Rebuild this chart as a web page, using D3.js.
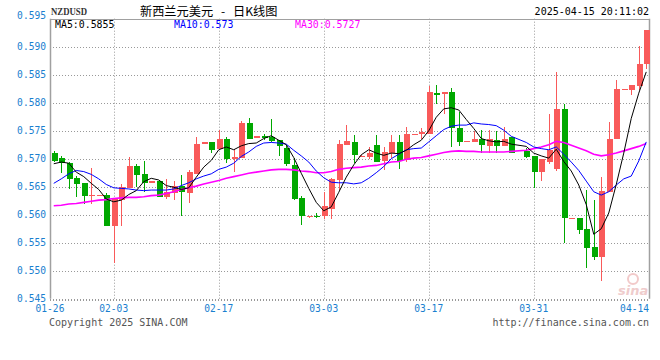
<!DOCTYPE html>
<html><head><meta charset="utf-8">
<script src="https://cdn.jsdelivr.net/npm/d3@7"></script>
<style>
html,body{margin:0;padding:0;background:#fff;}
svg{display:block;}
</style></head>
<body>
<svg id="chart" width="660" height="360"></svg>
<script>
const dates = [
"2025-01-26","2025-01-27","2025-01-28","2025-01-29","2025-01-30","2025-01-31",
"2025-02-01","2025-02-02","2025-02-03","2025-02-04","2025-02-05","2025-02-06","2025-02-07","2025-02-08","2025-02-09","2025-02-10",
"2025-02-11","2025-02-12","2025-02-13","2025-02-14","2025-02-15","2025-02-16","2025-02-17","2025-02-18","2025-02-19","2025-02-20",
"2025-02-21","2025-02-22","2025-02-23","2025-02-24","2025-02-25","2025-02-26","2025-02-27","2025-02-28",
"2025-03-01","2025-03-02","2025-03-03","2025-03-04","2025-03-05","2025-03-06","2025-03-07","2025-03-08","2025-03-09","2025-03-10",
"2025-03-11","2025-03-12","2025-03-13","2025-03-14","2025-03-15","2025-03-16","2025-03-17","2025-03-18","2025-03-19","2025-03-20",
"2025-03-21","2025-03-22","2025-03-23","2025-03-24","2025-03-25","2025-03-26","2025-03-27","2025-03-28","2025-03-30","2025-03-31",
"2025-04-01","2025-04-02","2025-04-03","2025-04-04","2025-04-05","2025-04-06","2025-04-07","2025-04-08","2025-04-09","2025-04-10",
"2025-04-11","2025-04-12","2025-04-13","2025-04-14","2025-04-15"];

const open = [
.5711,.5701,.5692,.5666,.5656,.5633,.5634,.5635,.5580,.5626,
.5648,.5687,.5673,.5657,.5660,.5632,.5639,.5652,.5639,.5673,
.5729,.5730,.5717,.5735,.5700,.5702,.5763,.5740,.5740,.5739,
.5733,.5720,.5689,.5630,.5597,.5598,.5597,.5610,.5662,.5724,
.5730,.5704,.5703,.5724,.5696,.5711,.5730,.5698,.5745,.5744,
.5744,.5818,.5815,.5819,.5755,.5732,.5730,.5735,.5723,.5733,
.5723,.5738,.5714,.5705,.5677,.5695,.5681,.5789,.5594,.5594,
.5574,.5543,.5525,.5641,.5735,.5824,.5822,.5830,.5869];

const high = [
.5713,.5705,.5695,.5670,.5657,.5683,.5635,.5639,.5629,.5655,
.5703,.5691,.5696,.5661,.5660,.5664,.5661,.5671,.5680,.5739,
.5729,.5730,.5751,.5739,.5717,.5767,.5773,.5740,.5745,.5771,
.5733,.5724,.5701,.5634,.5598,.5603,.5640,.5665,.5733,.5760,
.5742,.5706,.5721,.5742,.5721,.5742,.5742,.5756,.5745,.5755,
.5829,.5832,.5819,.5826,.5784,.5732,.5749,.5751,.5751,.5750,
.5757,.5738,.5719,.5705,.5699,.5779,.5854,.5797,.5594,.5594,
.5645,.5626,.5668,.5766,.5841,.5824,.5832,.5902,.5930];

const low = [
.5694,.5675,.5646,.5631,.5620,.5620,.5634,.5580,.5514,.5580,
.5648,.5650,.5641,.5657,.5632,.5628,.5626,.5598,.5621,.5673,
.5729,.5711,.5717,.5693,.5677,.5702,.5735,.5740,.5733,.5730,
.5705,.5687,.5626,.5581,.5595,.5594,.5593,.5593,.5644,.5724,
.5692,.5704,.5700,.5695,.5680,.5701,.5681,.5695,.5745,.5735,
.5744,.5797,.5779,.5721,.5723,.5732,.5730,.5710,.5710,.5711,
.5723,.5711,.5701,.5647,.5661,.5690,.5678,.5549,.5594,.5566,
.5504,.5519,.5482,.5641,.5735,.5824,.5814,.5822,.5861];

const close = [
.5696,.5692,.5664,.5655,.5634,.5635,.5635,.5580,.5629,.5649,
.5687,.5671,.5657,.5661,.5632,.5641,.5652,.5640,.5676,.5727,
.5729,.5715,.5735,.5700,.5703,.5763,.5735,.5740,.5737,.5732,
.5723,.5691,.5628,.5597,.5598,.5597,.5615,.5663,.5726,.5732,
.5707,.5705,.5710,.5695,.5712,.5730,.5696,.5744,.5745,.5748,
.5819,.5814,.5819,.5755,.5730,.5732,.5736,.5725,.5736,.5723,
.5735,.5711,.5703,.5677,.5699,.5715,.5789,.5594,.5594,.5572,
.5541,.5525,.5643,.5736,.5824,.5824,.5832,.5869,.5930];

const ma5 = [
.5691,.5694,.5692,.5676,.5668,.5656,.5645,.5628,.5623,.5626,
.5636,.5643,.5659,.5665,.5662,.5652,.5649,.5645,.5648,.5667,
.5685,.5697,.5716,.5721,.5716,.5723,.5727,.5728,.5736,.5741,
.5733,.5725,.5702,.5674,.5647,.5622,.5607,.5614,.5640,.5667,
.5689,.5707,.5716,.5710,.5706,.5710,.5709,.5715,.5725,.5733,
.5750,.5774,.5789,.5791,.5787,.5770,.5754,.5736,.5732,.5730,
.5731,.5726,.5722,.5710,.5705,.5701,.5717,.5695,.5678,.5653,
.5618,.5565,.5575,.5603,.5654,.5710,.5772,.5817,.5855];

const ma10 = [
.5656,.5664,.5673,.5679,.5677,.5672,.5664,.5654,.5648,.5647,
.5646,.5644,.5643,.5644,.5644,.5644,.5646,.5652,.5657,.5664,
.5669,.5673,.5681,.5685,.5692,.5704,.5712,.5722,.5728,.5729,
.5728,.5726,.5715,.5705,.5694,.5678,.5666,.5658,.5657,.5657,
.5655,.5657,.5665,.5675,.5686,.5700,.5708,.5716,.5718,.5719,
.5730,.5741,.5752,.5758,.5760,.5760,.5764,.5762,.5761,.5759,
.5751,.5740,.5729,.5721,.5718,.5716,.5721,.5708,.5694,.5679,
.5660,.5641,.5635,.5641,.5653,.5664,.5669,.5696,.5730];

const ma30 = [
.5616,.5617,.5619,.5620,.5622,.5624,.5626,.5627,.5629,.5630,
.5631,.5631,.5632,.5634,.5635,.5638,.5641,.5645,.5648,.5651,
.5655,.5658,.5661,.5665,.5668,.5671,.5674,.5676,.5678,.5680,
.5681,.5681,.5680,.5678,.5677,.5675,.5675,.5677,.5681,.5683,
.5684,.5685,.5687,.5688,.5691,.5694,.5695,.5699,.5701,.5702,
.5705,.5708,.5711,.5713,.5714,.5713,.5713,.5712,.5712,.5712,
.5712,.5713,.5715,.5718,.5721,.5725,.5731,.5729,.5724,.5719,
.5714,.5708,.5705,.5707,.5710,.5714,.5718,.5722,.5727];

const yTicks = [0.545,0.550,0.555,0.560,0.565,0.570,0.575,0.580,0.585,0.590,0.595];
const gridDates = ["2025-02-03","2025-02-17","2025-03-03","2025-03-17","2025-03-31"];
const xLabels = ["01-26","02-03","02-17","03-03","03-17","03-31","04-14"];
const legendTexts = ["MA5:0.5855","MA10:0.573","MA30:0.5727"];
const legendColors = ["#000000","#0000ff","#ff00ff"];

const parse = d3.utcParse("%Y-%m-%d");
const svg = d3.select("#chart");
const L = 50, R = 650, T = 18.7, B = 298.7;
const mono = "'DejaVu Sans Mono', monospace";

const x = d3.scaleUtc().domain([parse("2025-01-26"), parse("2025-04-16")]).range([L, R]);
const y = d3.scaleLinear().domain([0.545, 0.595]).range([B, T]);
const step = x(parse("2025-01-27")) - x(parse("2025-01-26"));
const cx = d => x(parse(d)) + step / 2;
const bw = 6;

svg.append("defs").append("clipPath").attr("id","plot")
  .append("rect").attr("x",L).attr("y",T).attr("width",R-L).attr("height",B-T);

// grid
const g = svg.append("g");
g.selectAll("line.h").data(yTicks.slice(0,-1)).join("line")
  .attr("x1",L).attr("x2",R).attr("y1",d=>Math.round(y(d))+0.5).attr("y2",d=>Math.round(y(d))+0.5)
  .attr("stroke","#999").attr("stroke-dasharray","1,2");
g.selectAll("line.v").data(gridDates).join("line")
  .attr("x1",d=>Math.round(cx(d))+0.5).attr("x2",d=>Math.round(cx(d))+0.5)
  .attr("y1",T).attr("y2",B)
  .attr("stroke","#999").attr("stroke-dasharray","1,2");

// watermark
const wm = svg.append("g").attr("clip-path","url(#plot)");
wm.append("circle").attr("cx",633).attr("cy",279).attr("r",5).attr("fill","none").attr("stroke","#f2caca").attr("stroke-width",2);
wm.append("text").attr("x",618).attr("y",295).attr("font-family","'DejaVu Sans', sans-serif")
  .attr("font-style","italic").attr("font-weight","bold").attr("font-size",13).attr("fill","#efcccc").text("sina");

// frame
svg.append("line").attr("x1",L).attr("x2",R).attr("y1",Math.round(T)+0.5).attr("y2",Math.round(T)+0.5).attr("stroke","#a0a0a0");
svg.append("line").attr("x1",L+0.5).attr("x2",L+0.5).attr("y1",T).attr("y2",B).attr("stroke","#a0a0a0").attr("stroke-width",1.5);
svg.append("line").attr("x1",R-0.5).attr("x2",R-0.5).attr("y1",T).attr("y2",B).attr("stroke","#a0a0a0").attr("stroke-width",1.5);
svg.append("line").attr("x1",L).attr("x2",R).attr("y1",Math.round(B)+1.5).attr("y2",Math.round(B)+1.5).attr("stroke","#999").attr("stroke-dasharray","1,2");

// candles
const data = dates.map((d,i)=>({d, o:open[i], h:high[i], l:low[i], c:close[i]}));
const up = "#f95a5a", dn = "#00a800";
const cg = svg.append("g").attr("shape-rendering","crispEdges");
cg.selectAll("line.w").data(data).join("line")
  .attr("x1",d=>Math.round(cx(d.d))+0.5).attr("x2",d=>Math.round(cx(d.d))+0.5)
  .attr("y1",d=>y(d.h)).attr("y2",d=>y(d.l))
  .attr("stroke",d=>d.c>=d.o?up:dn);
cg.selectAll("rect.b").data(data).join("rect")
  .attr("x",d=>Math.round(cx(d.d))-bw/2+0.5).attr("width",bw)
  .attr("y",d=>y(Math.max(d.o,d.c)))
  .attr("height",d=>Math.max(1.2, Math.abs(y(d.o)-y(d.c))))
  .attr("fill",d=>d.c>=d.o?up:dn);

// MA lines
const mkLine = arr => d3.line().x((d,i)=>cx(dates[i])).y(d=>y(d))(arr);
svg.append("path").attr("d",mkLine(ma30)).attr("fill","none").attr("stroke","#ff00ff").attr("stroke-width",1.6);
svg.append("path").attr("d",mkLine(ma10)).attr("fill","none").attr("stroke","#0000ff").attr("stroke-width",1);
svg.append("path").attr("d",mkLine(ma5)).attr("fill","none").attr("stroke","#000").attr("stroke-width",1);

// y labels
svg.selectAll("text.yl").data(yTicks).join("text")
  .attr("x",46).attr("y",d=>y(d)+(d===0.595?0.5:3.5)).attr("text-anchor","end")
  .attr("font-family",mono).attr("font-size",9.6).attr("fill","#1a7fcf").text(d=>d3.format(".3f")(d));

// x labels
const xl = [{t:xLabels[0], x:L, a:"middle"}]
  .concat(gridDates.map((d,i)=>({t:xLabels[i+1], x:cx(d), a:"middle"})))
  .concat([{t:xLabels[6], x:R-1, a:"end"}]);
svg.selectAll("text.xl").data(xl).join("text")
  .attr("x",d=>d.x).attr("y",311.5).attr("text-anchor",d=>d.a)
  .attr("font-family",mono).attr("font-size",9.6).attr("fill","#1a7fcf").text(d=>d.t);

// header
svg.append("text").attr("x",51).attr("y",15).attr("font-family","'Liberation Serif', serif").attr("font-weight","bold")
  .attr("font-size",10).attr("textLength",36).attr("lengthAdjust","spacingAndGlyphs").attr("fill","#333").text("NZDUSD");
const cjk = "'Noto Sans CJK SC', sans-serif";
svg.append("text").attr("x",140).attr("y",16).attr("font-family",cjk).attr("font-size",12.2).attr("fill","#000").text("新西兰元美元");
svg.append("text").attr("x",223).attr("y",16).attr("text-anchor","middle").attr("font-family",cjk).attr("font-size",12).attr("fill","#000").text("-");
svg.append("text").attr("x",233).attr("y",16).attr("font-family",cjk).attr("font-size",12.2).attr("fill","#000").text("日K线图");
svg.append("text").attr("x",649).attr("y",15).attr("text-anchor","end").attr("font-family",mono).attr("font-size",10).attr("fill","#000").text("2025-04-15 20:11:02");

// legend
const lx = [55,174,295];
svg.selectAll("text.lg").data(legendTexts).join("text")
  .attr("x",(d,i)=>lx[i]).attr("y",27.5).attr("font-family",mono).attr("font-size",9.9)
  .attr("fill",(d,i)=>legendColors[i]).text(d=>d);

// footer
svg.append("text").attr("x",49).attr("y",325.5).attr("font-family",mono).attr("font-size",10).attr("fill","#555").text("Copyright 2025 SINA.COM");
svg.append("text").attr("x",649).attr("y",325.5).attr("text-anchor","end").attr("font-family",mono).attr("font-size",10).attr("fill","#555").text("http://finance.sina.com.cn");
</script>
</body></html>
